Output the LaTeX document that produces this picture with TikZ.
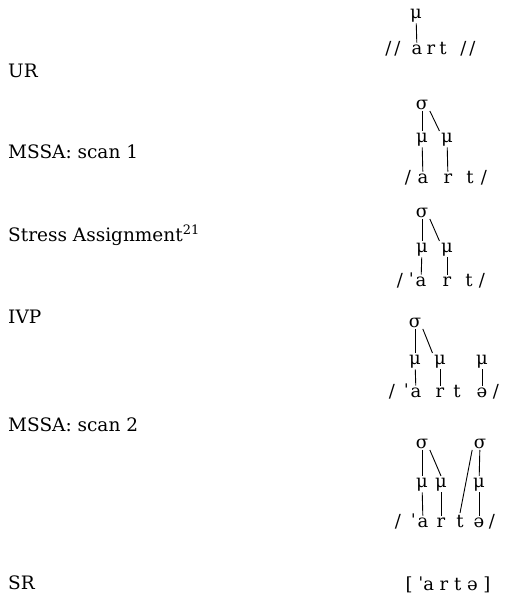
\documentclass[tikz,border=0pt]{standalone}
\usepackage{fontspec}
\setmainfont{DejaVu Serif}
\usepackage{tikz}

\tikzset{
  seg/.style={inner sep=1.5pt, anchor=base, font=\fontsize{18}{21}\selectfont},
  stressmark/.style={seg, anchor=base east, inner xsep=0pt},
  lab/.style={inner sep=0pt, anchor=base west, font=\fontsize{18.5}{22}\selectfont},
  assoc/.style={line width=0.9pt}
}

\begin{document}
\begin{tikzpicture}[x=1pt,y=-1pt]
\useasboundingbox (0,0) rectangle (506,600);
% derivation steps
\node[lab] (lur) at (8,77) {UR};
\node[lab] (lscan1) at (8,158) {MSSA: scan 1};
\node[lab] (lstress) at (8,241) {Stress Assignment\textsuperscript{21}};
\node[lab] (livp) at (8,323) {IVP};
\node[lab] (lscan2) at (8,431) {MSSA: scan 2};
\node[lab] (lsr) at (8,589) {SR};

% UR
\node[seg] (ur-m) at (416,18) {μ};
\node[seg] (ur-l) at (393,54) {/\kern3pt/};
\node[seg] (ur-a) at (417,54) {a};
\node[seg] (ur-r) at (431,54) {r};
\node[seg] (ur-t) at (443,54) {t};
\node[seg] (ur-rr) at (468,54) {/\kern3pt/};
\draw[assoc] (ur-m) -- (ur-a);

% MSSA: scan 1
\node[seg] (sa-s) at (422,109) {σ};
\node[seg] (sa-m1) at (422,142) {μ};
\node[seg] (sa-m2) at (447,142) {μ};
\node[seg] (sa-l) at (408,183) {/};
\node[seg] (sa-a) at (423,183) {a};
\node[seg] (sa-r) at (448,183) {r};
\node[seg] (sa-t) at (470,183) {t};
\node[seg] (sa-rr) at (484,183) {/};
\draw[assoc] (sa-s) -- (sa-m1);
\draw[assoc] (sa-s.south east) -- (sa-m2.north west);
\draw[assoc] (sa-m1) -- (sa-a);
\draw[assoc] (sa-m2) -- (sa-r);

% Stress Assignment
\node[seg] (st-s) at (422,217) {σ};
\node[seg] (st-m1) at (422,252) {μ};
\node[seg] (st-m2) at (447,252) {μ};
\node[seg] (st-l) at (400,286) {/};
\node[seg] (st-a) at (421,286) {a};
\node[stressmark] (st-str) at (st-a.base west) {ˈ};
\node[seg] (st-r) at (447,286) {r};
\node[seg] (st-t) at (469,286) {t};
\node[seg] (st-rr) at (482,286) {/};
\draw[assoc] (st-s) -- (st-m1);
\draw[assoc] (st-s.south east) -- (st-m2.north west);
\draw[assoc] (st-m1) -- (st-a);
\draw[assoc] (st-m2) -- (st-r);

% IVP
\node[seg] (iv-s) at (415,327) {σ};
\node[seg] (iv-m1) at (415,364) {μ};
\node[seg] (iv-m2) at (440,364) {μ};
\node[seg] (iv-m3) at (482,364) {μ};
\node[seg] (iv-l) at (392,397) {/};
\node[seg] (iv-a) at (416,397) {a};
\node[stressmark] (iv-str) at (iv-a.base west) {ˈ};
\node[seg] (iv-r) at (440,397) {r};
\node[seg] (iv-t) at (457,397) {t};
\node[seg] (iv-e) at (482,397) {ə};
\node[seg] (iv-rr) at (496,397) {/};
\draw[assoc] (iv-s) -- (iv-m1);
\draw[assoc] (iv-s.south east) -- (iv-m2.north west);
\draw[assoc] (iv-m1) -- (iv-a);
\draw[assoc] (iv-m2) -- (iv-r);
\draw[assoc] (iv-m3) -- (iv-e);

% MSSA: scan 2
\node[seg] (sb-s1) at (422,448) {σ};
\node[seg] (sb-s2) at (480,448) {σ};
\node[seg] (sb-m1) at (422,487) {μ};
\node[seg] (sb-m2) at (441,487) {μ};
\node[seg] (sb-m3) at (479,487) {μ};
\node[seg] (sb-l) at (398,527) {/};
\node[seg] (sb-a) at (423,527) {a};
\node[stressmark] (sb-str) at (sb-a.base west) {ˈ};
\node[seg] (sb-r) at (441,527) {r};
\node[seg] (sb-t) at (460,527) {t};
\node[seg] (sb-e) at (479,527) {ə};
\node[seg] (sb-rr) at (492,527) {/};
\draw[assoc] (sb-s1) -- (sb-m1);
\draw[assoc] (sb-s1.south east) -- (sb-m2.north);
\draw[assoc] (sb-s2) -- (sb-m3);
\draw[assoc] (sb-s2.south west) -- (sb-t.north);
\draw[assoc] (sb-m1) -- (sb-a);
\draw[assoc] (sb-m2) -- (sb-r);
\draw[assoc] (sb-m3) -- (sb-e);

% SR
\node[seg] (sr) at (448,590) {[ ˈa r t ə ]};
\end{tikzpicture}
\end{document}
